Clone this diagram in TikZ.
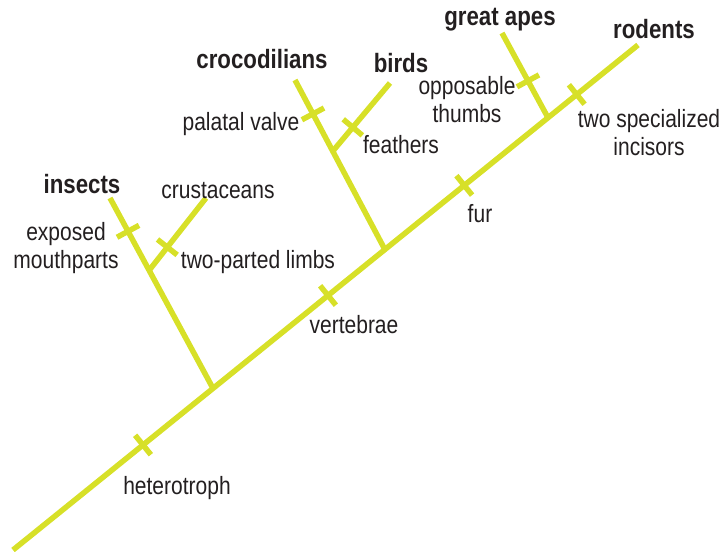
\documentclass[tikz,border=0pt]{standalone}
\usepackage{fontspec}
\setmainfont{Liberation Sans}[FakeStretch=0.84]
\usetikzlibrary{calc}
\definecolor{cladelime}{RGB}{215,224,40}
\definecolor{labelgray}{RGB}{35,31,32}

\begin{document}
\begin{tikzpicture}[x=1pt,y=-1pt,
		branch/.style={draw=cladelime,line width=5.5pt},
		trait/.style={sloped,fill=cladelime,inner sep=0pt,minimum width=5.5pt,minimum height=25pt},
		taxon/.style={anchor=base,text=labelgray,font=\fontsize{26.5}{30}\selectfont\bfseries},
		feature/.style={anchor=base,text=labelgray,align=center,font=\fontsize{25}{27.5}\selectfont}]
	\useasboundingbox (0,0) rectangle (724,552);
	% main stem and junctions
	\coordinate (root) at (13,550);
	\coordinate (tip) at (638,45);
	\coordinate (j-ins) at ($(root)!0.32!(tip)$);
	\coordinate (j-croc) at ($(root)!0.595!(tip)$);
	\coordinate (j-ape) at ($(root)!0.856!(tip)$);
	% branch ends
	\coordinate (e-ins) at (110,198);
	\coordinate (k-crus) at ($(j-ins)!0.62!(e-ins)$);
	\coordinate (e-crus) at (206,198);
	\coordinate (e-croc) at (295,80);
	\coordinate (k-bird) at ($(j-croc)!0.58!(e-croc)$);
	\coordinate (e-bird) at (390,83);
	\coordinate (e-ape) at (502,33);

	\draw[branch] (j-ins) -- (e-ins) node[trait,pos=0.825] (t-mouth) {};
	\draw[branch] (k-crus) -- (e-crus) node[trait,pos=0.32] (t-limbs) {};
	\draw[branch] (j-croc) -- (e-croc) node[trait,pos=0.8] (t-valve) {};
	\draw[branch] (k-bird) -- (e-bird) node[trait,pos=0.35] (t-feath) {};
	\draw[branch] (j-ape) -- (e-ape) node[trait,pos=0.435] (t-thumb) {};
	\draw[branch] (root) -- (tip)
		node[trait,pos=0.208] (t-hetero) {}
		node[trait,pos=0.504] (t-vert) {}
		node[trait,pos=0.722] (t-fur) {}
		node[trait,pos=0.902] (t-incis) {};

	% taxa
	\node[taxon] (insects) at (82,193) {insects};
	\node[feature] (crustaceans) at (218,198) {crustaceans};
	\node[taxon] (crocodilians) at (262,68) {crocodilians};
	\node[taxon] (birds) at (401,72) {birds};
	\node[taxon] (apes) at (500,25) {great apes};
	\node[taxon] (rodents) at (654,38) {rodents};
	% characters (base = last line)
	\node[feature] (l-mouth) at (66,268) {exposed\\mouthparts};
	\node[feature] (l-limbs) at (258,268) {two-parted limbs};
	\node[feature] (l-hetero) at (177,494) {heterotroph};
	\node[feature] (l-vert) at (354,333) {vertebrae};
	\node[feature] (l-valve) at (241,130) {palatal valve};
	\node[feature] (l-feath) at (401,153) {feathers};
	\node[feature] (l-fur) at (480,222) {fur};
	\node[feature] (l-thumb) at (467,122) {opposable\\thumbs};
	\node[feature] (l-incis) at (649,155) {two specialized\\incisors};
\end{tikzpicture}
\end{document}
